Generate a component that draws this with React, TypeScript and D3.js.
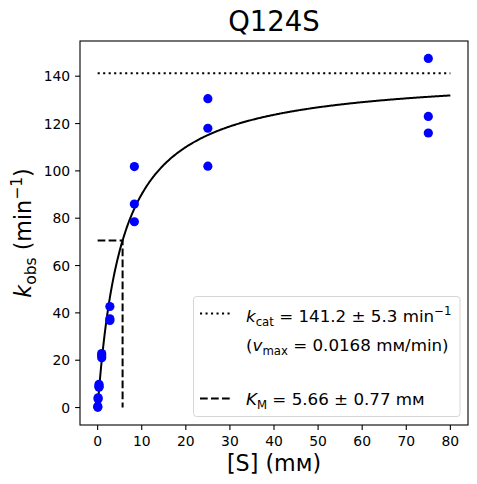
import React from 'react';
import * as d3 from 'd3';

// substrate concentrations (mM) and observed rates (min^-1), triplicates
const substrate = [
  75, 75, 75, 25, 25, 25, 8.33, 8.33, 8.33, 2.78, 2.78, 2.78,
  0.926, 0.926, 0.926, 0.309, 0.309, 0.309, 0.103, 0.103, 0.034, 0.034,
];
const kobs = [
  147.5, 123, 116, 130.5, 118, 102, 101.8, 86, 78.5, 42.7, 37.5, 36.8,
  22.8, 22, 21, 9.8, 9, 8.6, 4.1, 3.6, 0.5, 0.1,
];

const kcat = 141.2;
const km = 5.66;
const xTicks = [0, 10, 20, 30, 40, 50, 60, 70, 80];
const yTicks = [0, 20, 40, 60, 80, 100, 120, 140];

const W = 477;
const H = 484;
const margin = { top: 41, right: 9, bottom: 59, left: 80 };
const font = 'DejaVu Sans, sans-serif';

export default function App() {
  const x = d3.scaleLinear().domain([-4, 84]).range([margin.left, W - margin.right]);
  const y = d3.scaleLinear().domain([-7.375, 154.875]).range([H - margin.bottom, margin.top]);

  const curveX = d3.range(0, 80.01, 0.2);
  const line = d3
    .line<number>()
    .x((s) => x(s))
    .y((s) => y((kcat * s) / (km + s)));

  const x0 = margin.left;
  const x1 = W - margin.right;
  const y0 = H - margin.bottom;
  const y1 = margin.top;

  return (
    <svg
      width={W}
      height={H}
      style={{ position: 'absolute', left: 0, top: 0, background: '#fff' }}
      fontFamily={font}
    >
      <rect width={W} height={H} fill="#fff" />
      <text x={(x0 + x1) / 2} y={31} textAnchor="middle" fontSize={27.5}>
        Q124S
      </text>

      {/* fitted curve */}
      <path d={line(curveX) || ''} fill="none" stroke="#000" strokeWidth={2} />
      {/* kcat */}
      <line
        x1={x(0)}
        x2={x(80)}
        y1={y(kcat)}
        y2={y(kcat)}
        stroke="#000"
        strokeWidth={2}
        strokeDasharray="2.1,3.4"
      />
      {/* Km */}
      <path
        d={`M${x(0)},${y(kcat / 2)}L${x(km)},${y(kcat / 2)}L${x(km)},${y(0)}`}
        fill="none"
        stroke="#000"
        strokeWidth={2}
        strokeDasharray="7.7,3.3"
      />

      {substrate.map((s, i) => (
        <circle key={i} cx={x(s)} cy={y(kobs[i])} r={4.6} fill="#0000ff" />
      ))}

      {/* legend */}
      <rect
        x={193.5}
        y={296.5}
        width={266.5}
        height={120}
        rx={3}
        fill="#fff"
        fillOpacity={0.8}
        stroke="#d6d6d6"
      />
      <line x1={200} x2={230} y1={313.5} y2={313.5} stroke="#000" strokeWidth={2} strokeDasharray="2.1,3.4" />
      <line x1={200} x2={230} y1={398.5} y2={398.5} stroke="#000" strokeWidth={2} strokeDasharray="7.7,3.3" />
      <g fontSize={16.7}>
        <text x={246} y={322}>
          <tspan fontStyle="italic">k</tspan>
          <tspan fontSize="0.7em" dy={3.5}>cat</tspan>
          <tspan dy={-3.5}> = 141.2 ± 5.3 min</tspan>
          <tspan fontSize="0.7em" dy={-7}>−1</tspan>
        </text>
        <text x={246} y={351}>
          <tspan>(</tspan>
          <tspan fontStyle="italic">v</tspan>
          <tspan fontSize="0.7em" dy={3.5}>max</tspan>
          <tspan dy={-3.5}> = 0.0168 mм/min)</tspan>
        </text>
        <text x={246} y={405}>
          <tspan fontStyle="italic">K</tspan>
          <tspan fontSize="0.7em" dy={3.5}>M</tspan>
          <tspan dy={-3.5}> = 5.66 ± 0.77 mм</tspan>
        </text>
      </g>

      {/* frame */}
      <rect x={x0} y={y1} width={x1 - x0} height={y0 - y1} fill="none" stroke="#000" strokeWidth={1.1} />

      {/* x axis */}
      {xTicks.map((t) => (
        <g key={t} transform={`translate(${x(t)},${y0})`}>
          <line y2={4.9} stroke="#000" strokeWidth={1.1} />
          <text y={20.5} textAnchor="middle" fontSize={13.9}>
            {t}
          </text>
        </g>
      ))}
      {/* y axis */}
      {yTicks.map((t) => (
        <g key={t} transform={`translate(${x0},${y(t)})`}>
          <line x2={-4.9} stroke="#000" strokeWidth={1.1} />
          <text x={-9.8} dy="0.36em" textAnchor="end" fontSize={13.9}>
            {t}
          </text>
        </g>
      ))}

      <text x={(x0 + x1) / 2} y={471} textAnchor="middle" fontSize={22.2}>
        [S] (mм)
      </text>
      <text transform={`translate(31,${(y0 + y1) / 2}) rotate(-90)`} textAnchor="middle" fontSize={22.2}>
        <tspan fontStyle="italic">k</tspan>
        <tspan fontSize="0.7em" dy={4.5}>obs</tspan>
        <tspan dy={-4.5}> (min</tspan>
        <tspan fontSize="0.7em" dy={-9}>−1</tspan>
        <tspan dy={9}>)</tspan>
      </text>
    </svg>
  );
}
